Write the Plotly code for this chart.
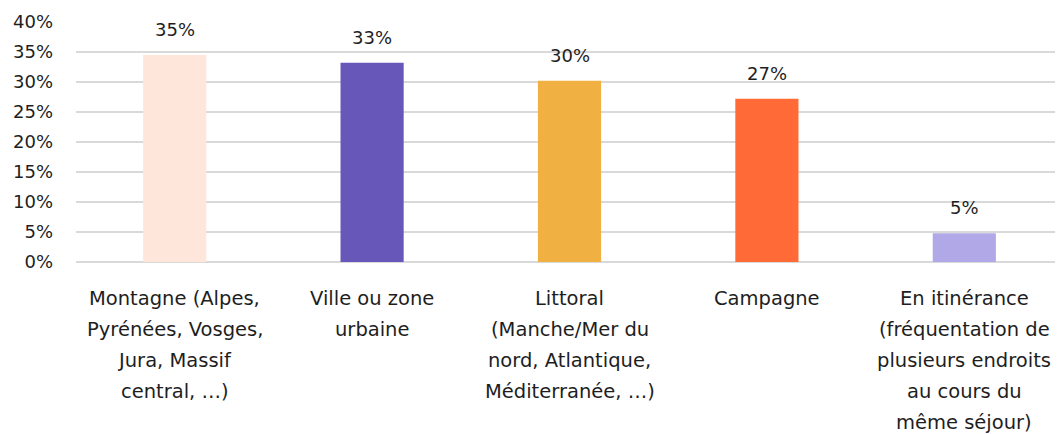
import plotly.graph_objects as go

categories = [
    "Montagne (Alpes,<br>Pyrénées, Vosges,<br>Jura, Massif<br>central, …)",
    "Ville ou zone<br>urbaine",
    "Littoral<br>(Manche/Mer du<br>nord, Atlantique,<br>Méditerranée, …)",
    "Campagne",
    "En itinérance<br>(fréquentation de<br>plusieurs endroits<br>au cours du<br>même séjour)",
]
values = [34.5, 33.2, 30.2, 27.2, 4.8]
value_labels = ["35%", "33%", "30%", "27%", "5%"]
colors = ["#FFE6DB", "#6757B8", "#F0B142", "#FF6A36", "#B1A9E7"]
tick_vals = [0, 5, 10, 15, 20, 25, 30, 35, 40]
tick_text = ["0%", "5%", "10%", "15%", "20%", "25%", "30%", "35%", "40%"]

FONT = "DejaVu Sans"

fig = go.Figure()
fig.add_trace(go.Bar(
    x=list(range(len(categories))),
    y=values,
    marker=dict(color=colors, line=dict(width=0)),
    width=0.32,
    hoverinfo="skip",
))

annotations = []
for i, (v, lab) in enumerate(zip(values, value_labels)):
    annotations.append(dict(
        x=i, y=v, xref="x", yref="y", text=lab, showarrow=False,
        yanchor="bottom", yshift=13, font=dict(family=FONT, size=18, color="#1E1E1E"),
    ))
for i, cat in enumerate(categories):
    for j, line in enumerate(cat.split("<br>")):
        annotations.append(dict(
            x=i, y=0, xref="x", yref="y", text=line, showarrow=False,
            yanchor="middle", yshift=-36 - 31 * j,
            font=dict(family=FONT, size=19.5, color="#1E1E1E"),
        ))

fig.update_layout(
    width=1055, height=426,
    margin=dict(l=68, r=0, t=14, b=172),
    paper_bgcolor="white", plot_bgcolor="white",
    showlegend=False,
    font=dict(family=FONT, size=18, color="#1E1E1E"),
    annotations=annotations,
    xaxis=dict(range=[-0.5, 4.5], showticklabels=False, showgrid=False,
               zeroline=False, showline=False, fixedrange=True),
    yaxis=dict(range=[0, 40], tickvals=tick_vals, ticktext=tick_text,
               showgrid=True, gridcolor="#D9D9D9", gridwidth=2,
               zeroline=True, zerolinecolor="#D9D9D9", zerolinewidth=2,
               showline=False, ticks="", ticklabelstandoff=22,
               tickfont=dict(family=FONT, size=18, color="#1E1E1E")),
)

fig.write_html("out.html")
